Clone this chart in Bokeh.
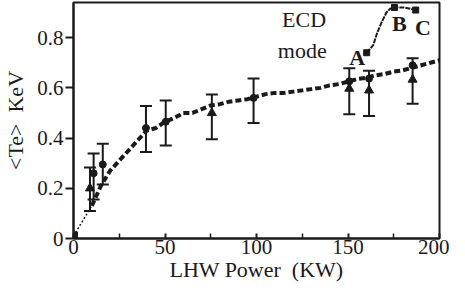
from bokeh.plotting import figure
from bokeh.models import Range1d, Whisker, ColumnDataSource, TeeHead, FixedTicker
from bokeh.core.properties import value
from bokeh.embed import file_html
from bokeh.resources import INLINE

# Fit curve (dashed, square markers)
fit_x = [0, 5, 10, 15, 20, 25, 30, 35, 40, 45, 50, 55, 60, 65, 70, 75, 80, 85, 90, 95, 100,
         105, 110, 115, 120, 125, 130, 135, 140, 145, 150, 155, 160, 165, 170, 175, 180,
         185, 190, 195, 200]
fit_y = [0.01, 0.07, 0.13, 0.21, 0.27, 0.31, 0.35, 0.39, 0.43, 0.44, 0.465, 0.48, 0.50, 0.50,
         0.515, 0.53, 0.535, 0.545, 0.55, 0.555, 0.565, 0.575, 0.58, 0.58, 0.585, 0.59,
         0.595, 0.60, 0.61, 0.615, 0.625, 0.635, 0.64, 0.65, 0.655, 0.665, 0.67, 0.68,
         0.69, 0.70, 0.71]

# Error bars
err_x = [9, 11, 16, 39.6, 50.4, 75.6, 98.4, 150.7, 161.5, 185.3]
err_lo = [0.11, 0.155, 0.215, 0.345, 0.37, 0.395, 0.46, 0.495, 0.488, 0.537]
err_hi = [0.283, 0.339, 0.377, 0.528, 0.55, 0.574, 0.637, 0.678, 0.668, 0.718]

# Circle markers
circ_x = [11, 16, 39.6, 50.4, 98.4, 150.7, 161.5, 185.3]
circ_y = [0.26, 0.295, 0.44, 0.465, 0.56, 0.626, 0.637, 0.69]

# Triangle markers
tri_x = [9, 75.6, 150.7, 161.5, 185.3]
tri_y = [0.20, 0.50, 0.597, 0.59, 0.633]

# ECD mode curve
ecd_x = [160.2, 162, 163.8, 166, 168.3, 171, 173, 175.4, 181, 187]
ecd_y = [0.74, 0.755, 0.77, 0.82, 0.86, 0.90, 0.915, 0.92, 0.92, 0.91]
ecd_mark_x = [160.2, 175.4, 187]
ecd_mark_y = [0.74, 0.92, 0.91]

letters = ["A", "B", "C"]
letter_x = [155, 178, 191]
letter_y = [0.72, 0.855, 0.84]

x_ticks = [0, 50, 100, 150, 200]
y_ticks = [0, 0.2, 0.4, 0.6, 0.8]

NB = "\u00a0"
FONT = "'Liberation Serif', serif"
INK = "#1a1a1a"

p = figure(width=449, height=284, output_backend="svg", toolbar_location=None,
           x_range=Range1d(0, 200), y_range=Range1d(0, 0.94),
           min_border_left=69, min_border_right=10, min_border_top=2, min_border_bottom=36)
p.background_fill_color = "white"
p.border_fill_color = "white"
p.outline_line_color = INK
p.outline_line_width = 2
p.grid.visible = False

# dashed fit line
p.line(fit_x[:3], fit_y[:3], line_color=INK, line_width=1.5, line_dash="2 2")
p.line(fit_x[2:], fit_y[2:], line_color=INK, line_width=4, line_dash="6 3")
p.scatter([fit_x[0]], [fit_y[0]], marker="square", size=8, color=INK)

src = ColumnDataSource(dict(x=err_x, lo=err_lo, hi=err_hi))
w = Whisker(source=src, base="x", lower="lo", upper="hi", line_color=INK, line_width=2,
            upper_head=TeeHead(size=12, line_color=INK, line_width=2),
            lower_head=TeeHead(size=12, line_color=INK, line_width=2))
p.add_layout(w)

p.scatter(circ_x, circ_y, marker="circle", size=7, color=INK)
p.scatter(tri_x, tri_y, marker="triangle", size=9, color=INK)

p.line(ecd_x, ecd_y, line_color=INK, line_width=2, line_dash="5 1")
p.scatter(ecd_mark_x, ecd_mark_y, marker="square", size=6, color=INK)

p.text(letter_x, letter_y, text=letters, text_font=value(FONT), text_font_size="22px",
       text_font_style="bold", text_align="center", text_baseline="middle", text_color=INK)
p.text([126, 125], [0.874, 0.748], text=["ECD", "mode"], text_font=value(FONT),
       text_font_size="22px", text_align="center", text_baseline="middle", text_color=INK)

# axes
p.xaxis.ticker = FixedTicker(ticks=x_ticks, minor_ticks=[25, 75, 125, 175])
p.yaxis.ticker = FixedTicker(ticks=y_ticks, minor_ticks=[])
p.yaxis.major_label_overrides = {0: "0", 0.2: "0.2", 0.4: "0.4", 0.6: "0.6", 0.8: "0.8"}
p.xaxis.major_tick_in = 5
p.xaxis.major_tick_out = 0
p.xaxis.minor_tick_in = 5
p.xaxis.minor_tick_out = 0
p.yaxis.major_tick_in = 0
p.yaxis.major_tick_out = 8
for ax in (p.xaxis[0], p.yaxis[0]):
    ax.axis_line_color = INK
    ax.axis_line_width = 2
    ax.major_tick_line_color = INK
    ax.major_tick_line_width = 2
    ax.minor_tick_line_color = INK
    ax.minor_tick_line_width = 1.5
    ax.major_label_text_font = FONT
    ax.major_label_text_font_size = "21px"
    ax.major_label_text_color = INK
    ax.axis_label_text_font = FONT
    ax.axis_label_text_font_size = "22px"
    ax.axis_label_text_font_style = "normal"
    ax.axis_label_text_color = INK
p.yaxis.minor_tick_line_color = None
p.xaxis.major_label_standoff = 1
p.yaxis.major_label_standoff = 2
p.xaxis.axis_label = "LHW Power" + NB + NB + "(KW)"
p.yaxis.axis_label = "<Te>" + NB + NB + "KeV"
p.xaxis.axis_label_standoff = 0
p.yaxis.axis_label_standoff = 6

open("out.html", "w").write(file_html(p, INLINE))
